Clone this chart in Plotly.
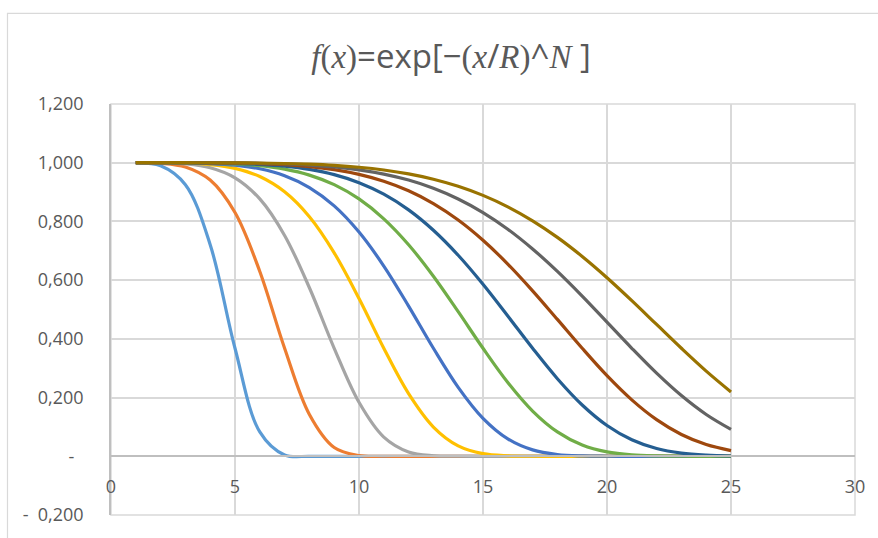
import plotly.graph_objects as go

# ---- data ----
x_vals = [1, 2, 3, 4, 5, 6, 7, 8, 9, 10, 11, 12, 13, 14, 15, 16, 17, 18, 19, 20, 21, 22, 23, 24, 25]

series_names = ["R=5", "R=7", "R=9", "R=11", "R=13", "R=15", "R=17", "R=19", "R=21", "R=23"]

s1 = [0.9997, 0.9898, 0.9252, 0.7206, 0.3679, 0.0831, 0.0046, 0.0000, 0.0000, 0.0000,
      0.0000, 0.0000, 0.0000, 0.0000, 0.0000, 0.0000, 0.0000, 0.0000, 0.0000, 0.0000,
      0.0000, 0.0000, 0.0000, 0.0000, 0.0000]
s2 = [0.9999, 0.9981, 0.9856, 0.9409, 0.8303, 0.6296, 0.3679, 0.1423, 0.0298, 0.0026,
      0.0001, 0.0000, 0.0000, 0.0000, 0.0000, 0.0000, 0.0000, 0.0000, 0.0000, 0.0000,
      0.0000, 0.0000, 0.0000, 0.0000, 0.0000]
s3 = [1.0000, 0.9995, 0.9959, 0.9828, 0.9485, 0.8766, 0.7523, 0.5741, 0.3679, 0.1839,
      0.0654, 0.0148, 0.0019, 0.0001, 0.0000, 0.0000, 0.0000, 0.0000, 0.0000, 0.0000,
      0.0000, 0.0000, 0.0000, 0.0000, 0.0000]
s4 = [1.0000, 0.9998, 0.9985, 0.9937, 0.9808, 0.9529, 0.9009, 0.8159, 0.6930, 0.5375,
      0.3679, 0.2133, 0.0997, 0.0355, 0.0090, 0.0015, 0.0001, 0.0000, 0.0000, 0.0000,
      0.0000, 0.0000, 0.0000, 0.0000, 0.0000]
s5 = [1.0000, 0.9999, 0.9993, 0.9972, 0.9916, 0.9793, 0.9557, 0.9155, 0.8530, 0.7639,
      0.6481, 0.5116, 0.3679, 0.2349, 0.1294, 0.0594, 0.0218, 0.0062, 0.0013, 0.0002,
      0.0000, 0.0000, 0.0000, 0.0000, 0.0000]
s6 = [1.0000, 1.0000, 0.9997, 0.9987, 0.9959, 0.9898, 0.9781, 0.9578, 0.9252, 0.8766,
      0.8089, 0.7206, 0.6133, 0.4925, 0.3679, 0.2514, 0.1542, 0.0831, 0.0384, 0.0148,
      0.0046, 0.0011, 0.0002, 0.0000, 0.0000]
s7 = [1.0000, 1.0000, 0.9998, 0.9993, 0.9978, 0.9945, 0.9882, 0.9772, 0.9593, 0.9320,
      0.8928, 0.8393, 0.7699, 0.6847, 0.5858, 0.4778, 0.3679, 0.2643, 0.1748, 0.1050,
      0.0563, 0.0265, 0.0107, 0.0037, 0.0010]
s8 = [1.0000, 1.0000, 0.9999, 0.9996, 0.9987, 0.9969, 0.9932, 0.9869, 0.9764, 0.9604,
      0.9370, 0.9044, 0.8608, 0.8048, 0.7359, 0.6548, 0.5636, 0.4662, 0.3679, 0.2746,
      0.1922, 0.1248, 0.0743, 0.0401, 0.0194]
s9 = [1.0000, 1.0000, 0.9999, 0.9997, 0.9992, 0.9981, 0.9959, 0.9920, 0.9856, 0.9758,
      0.9613, 0.9409, 0.9131, 0.8766, 0.8303, 0.7736, 0.7063, 0.6296, 0.5454, 0.4568,
      0.3679, 0.2831, 0.2068, 0.1423, 0.0915]
s10 = [1.0000, 1.0000, 1.0000, 0.9998, 0.9995, 0.9988, 0.9974, 0.9949, 0.9909, 0.9846,
       0.9753, 0.9621, 0.9439, 0.9198, 0.8887, 0.8497, 0.8020, 0.7456, 0.6806, 0.6083,
       0.5302, 0.4490, 0.3679, 0.2902, 0.2193]

y_tickvals = [-0.2, 0.0, 0.2, 0.4, 0.6, 0.8, 1.0, 1.2]
y_ticktext = ["-\u00a0\u00a00,200", "-\u00a0\u00a0", "0,200", "0,400", "0,600", "0,800", "1,000", "1,200"]
x_tickvals = [0, 5, 10, 15, 20, 25, 30]
x_ticktext = ["0", "5", "10", "15", "20", "25", "30"]

colors = ["#5B9BD5", "#ED7D31", "#A5A5A5", "#FFC000", "#4472C4",
          "#70AD47", "#255E91", "#9E480E", "#636363", "#997300"]

all_series = [s1, s2, s3, s4, s5, s6, s7, s8, s9, s10]

# ---- figure ----
W, H = 878, 538
ML, MR, MT, MB = 111, 23, 104, 21
PW = W - ML - MR
PH = H - MT - MB

fig = go.Figure()
for name, ys, col in zip(series_names, all_series, colors):
    fig.add_trace(go.Scatter(
        x=x_vals, y=ys, name=name, mode="lines",
        line=dict(color=col, width=3.2, shape="spline", smoothing=1.0),
        hoverinfo="x+y+name",
    ))

grid = "#D9D9D9"
axis_col = "#BFBFBF"
txt = "#595959"
font_fam = "Open Sans, Liberation Sans, sans-serif"

def px2paper_x(p):
    return (p - ML) / PW

def px2paper_y(q):
    return (H - MB - q) / PH

serif = 'style="font-family:Liberation Serif"'
title_text = (f'<i {serif}>f</i><span {serif}>(</span><i {serif}>x</i><span {serif}>)</span>'
              f'=exp[−<span {serif}>(</span><i {serif}>x</i>/<i {serif}>R</i><span {serif}>)</span>'
              f'^<i {serif}>N</i> ]')

fig.update_layout(
    width=W, height=H,
    margin=dict(l=ML, r=MR, t=MT, b=MB, pad=0),
    paper_bgcolor="white", plot_bgcolor="white",
    showlegend=False,
    font=dict(family=font_fam, color=txt, size=18),
    title=dict(text=title_text, x=451 / W, xref="container", xanchor="center",
               y=1 - 56 / H, yref="container", yanchor="middle",
               font=dict(family=font_fam, size=33, color=txt)),
    xaxis=dict(range=[0, 30], tickmode="array", tickvals=x_tickvals, ticktext=x_ticktext,
               showgrid=True, gridcolor=grid, gridwidth=1.5,
               zeroline=False, showline=True, linecolor=axis_col, linewidth=1.5,
               anchor="free", position=1 / 7, ticks="", ticklabelstandoff=14,
               tickfont=dict(size=18, color=txt, family=font_fam)),
    yaxis=dict(range=[-0.2, 1.2], tickmode="array", tickvals=y_tickvals, ticktext=y_ticktext,
               showgrid=True, gridcolor=grid, gridwidth=1.5,
               zeroline=False, showline=True, linecolor=axis_col, linewidth=1.5,
               ticks="", ticklabelstandoff=22,
               tickfont=dict(size=18, color=txt, family=font_fam)),
    shapes=[
        dict(type="rect", xref="paper", yref="paper", x0=0, x1=1, y0=0, y1=1,
             line=dict(color=grid, width=1.5), layer="below"),
        dict(type="rect", xref="paper", yref="paper",
             x0=px2paper_x(7.5), x1=px2paper_x(890), y0=px2paper_y(560), y1=px2paper_y(13),
             line=dict(color=grid, width=1.2), layer="below"),
    ],
)

fig.write_html("out.html")
